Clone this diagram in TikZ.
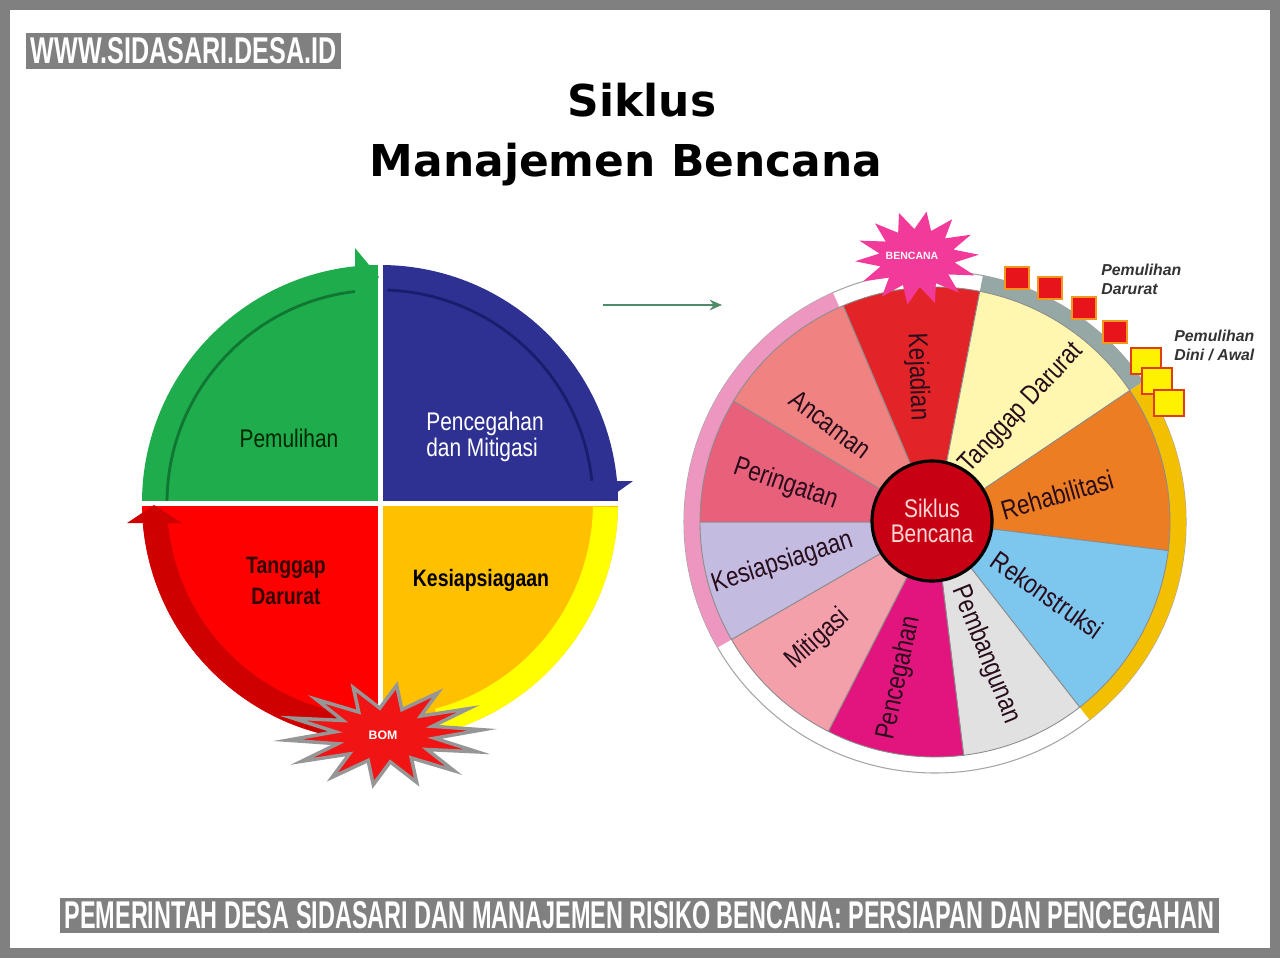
\documentclass[tikz,border=0pt]{standalone}
\usepackage{fontspec}
\setmainfont{Liberation Sans}
\newfontfamily\titlefont{DejaVu Sans}
\newfontfamily\narrowfont[FakeStretch=0.82]{Liberation Sans}
\usetikzlibrary{arrows.meta}

\definecolor{framegray}{RGB}{128,128,128}
\definecolor{greenq}{RGB}{30,172,76}
\definecolor{greenline}{RGB}{16,118,50}
\definecolor{blueq}{RGB}{46,49,146}
\definecolor{blueline}{RGB}{26,28,108}
\definecolor{redq}{RGB}{254,0,0}
\definecolor{redband}{RGB}{206,0,0}
\definecolor{orangeq}{RGB}{255,192,0}
\definecolor{yellowband}{RGB}{255,255,0}
\definecolor{bomred}{RGB}{240,20,20}
\definecolor{stargray}{RGB}{150,150,150}
\definecolor{flowgreen}{RGB}{80,140,105}
\definecolor{kejcol}{RGB}{226,36,40}
\definecolor{tangcol}{RGB}{255,247,176}
\definecolor{rehabcol}{RGB}{236,125,35}
\definecolor{rekoncol}{RGB}{125,198,238}
\definecolor{pembcol}{RGB}{225,225,225}
\definecolor{penccol}{RGB}{226,20,125}
\definecolor{mitigcol}{RGB}{244,160,170}
\definecolor{kesiapcol}{RGB}{196,188,224}
\definecolor{peringcol}{RGB}{232,96,122}
\definecolor{ancamcol}{RGB}{240,130,130}
\definecolor{ringpink}{RGB}{236,150,192}
\definecolor{ringgray}{RGB}{150,168,165}
\definecolor{ringgold}{RGB}{242,192,0}
\definecolor{ringline}{RGB}{165,165,165}
\definecolor{corered}{RGB}{200,0,20}
\definecolor{corepink}{RGB}{255,215,215}
\definecolor{bencanapink}{RGB}{242,58,154}
\definecolor{sqred}{RGB}{232,20,28}
\definecolor{sqorange}{RGB}{245,150,30}
\definecolor{sqyellow}{RGB}{255,242,0}
\definecolor{sqedge}{RGB}{225,60,20}
\definecolor{wheelink}{RGB}{40,12,28}

\begin{document}
\begin{tikzpicture}[x=0.02cm,y=0.02cm,
  banner/.style={fill=framegray,text=white,font=\bfseries,inner xsep=0.1cm,inner ysep=0.09cm},
  titletext/.style={font=\titlefont\bfseries\fontsize{25}{28}\selectfont,anchor=base},
  quadtext/.style={font=\narrowfont\fontsize{14.5}{13}\selectfont,inner sep=0},
  quadbold/.style={font=\narrowfont\bfseries\fontsize{13.5}{18}\selectfont,inner sep=0,align=center},
  wedge/.style={draw=black!45,line width=0.5pt},
  wheeltext/.style={font=\narrowfont\fontsize{15.5}{16}\selectfont,text=wheelink,inner sep=0},
  redsq/.style={draw=sqorange,fill=sqred,line width=1.2pt,minimum width=0.48cm,minimum height=0.44cm,inner sep=0},
  yellowsq/.style={draw=sqedge,fill=sqyellow,line width=1.4pt,minimum width=0.6cm,minimum height=0.52cm,inner sep=0},
  notetext/.style={font=\bfseries\itshape\fontsize{9}{10.8}\selectfont,text=black!80,align=left,anchor=west,inner sep=0},
  flowarrow/.style={draw=flowgreen,line width=1.6pt,-{Stealth[length=7pt,width=6pt]}}]

\useasboundingbox (0,0) rectangle (1280,958);
\fill[framegray] (0,0) rectangle (1280,958);
\fill[white] (10,10) rectangle (1270,948);

% banners and title
\node[banner] (site) at (183.5,907) {\resizebox{6.12cm}{0.52cm}{WWW.SIDASARI.DESA.ID}};
\node[banner,inner ysep=0.08cm] (headline) at (639.5,42.5) {\resizebox{23cm}{0.54cm}{PEMERINTAH DESA SIDASARI DAN MANAJEMEN RISIKO BENCANA: PERSIAPAN DAN PENCEGAHAN}};
\node[titletext] (siklus) at (642,841) {Siklus};
\node[titletext] (manajemen) at (626,781) {Manajemen Bencana};

% left cycle
\coordinate (L) at (380,455);
\fill[greenq] (L) -- ([shift={(L)}]180:238) arc[start angle=180,end angle=90,radius=238] -- cycle;
\fill[blueq] (L) -- ([shift={(L)}]90:238) arc[start angle=90,end angle=0,radius=238] -- cycle;
\fill[redq] (L) -- ([shift={(L)}]180:238) arc[start angle=180,end angle=270,radius=238] -- cycle;
\fill[orangeq] (L) -- ([shift={(L)}]270:238) arc[start angle=270,end angle=360,radius=238] -- cycle;

\draw[greenline,line width=1.6pt] ([shift={(L)}]180:213) arc[start angle=180,end angle=96,radius=213];
\draw[blueline,line width=1.6pt] ([shift={(L)}]88:213) arc[start angle=88,end angle=6,radius=213];
\fill[redband] ([shift={(L)}]185:238) arc[start angle=185,end angle=265,radius=238]
  -- ([shift={(L)}]265:213) arc[start angle=265,end angle=185,radius=213] -- cycle;
\fill[yellowband] ([shift={(L)}]359:238) arc[start angle=359,end angle=285,radius=238]
  -- ([shift={(L)}]285:213) arc[start angle=285,end angle=359,radius=213] -- cycle;

\draw[white,line width=0.1cm] (142,455) -- (619,455);
\draw[white,line width=0.1cm] (380,216) -- (380,694);

\fill[greenq] (355,710) -- (379,681) -- (355,652) -- cycle;
\fill[blueq] (633,477) -- (605,457) -- (578,477) -- cycle;
\fill[redband] (127,435) -- (154,453) -- (182,435) -- cycle;

\node[quadtext,anchor=base,text=black!85!green] (pemulihan) at (289,511) {Pemulihan};
\node[quadtext,anchor=west,align=left,text=white] (pencegahan) at (426,521) {Pencegahan\\dan Mitigasi};
\node[quadbold,text=black!80!red] (tanggap) at (286,377) {Tanggap\\Darurat};
\node[quadbold,text=black] (kesiap) at (481,378) {Kesiapsiagaan};

\fill[bomred,draw=stargray,line width=2pt] plot[samples=29,domain=0:28,variable=\k]
  ({385+(mod(\k,2)==0 ? 98 : 50)*cos(\k*360/28+6)},{223+(mod(\k,2)==0 ? 50 : 27)*sin(\k*360/28+6)}) -- cycle;
\node[font=\bfseries\fontsize{7}{8}\selectfont,text=white] (bom) at (383,223) {BOM};

% flow arrow
\coordinate (flowstart) at (603,653);
\coordinate (flowend) at (722,653);
\draw[flowarrow] (flowstart) -- (flowend);

% right wheel
\coordinate (W) at (935,436);
\draw[ringline,fill=white,line width=0.6pt] (W) circle[radius=251];
\fill[ringpink] ([shift={(W)}]114:251) arc[start angle=114,end angle=210,radius=251]
  -- ([shift={(W)}]210:235) arc[start angle=210,end angle=114,radius=235] -- cycle;
\fill[ringgray] ([shift={(W)}]34:251) arc[start angle=34,end angle=79,radius=251]
  -- ([shift={(W)}]79:235) arc[start angle=79,end angle=34,radius=235] -- cycle;
\fill[ringgold] ([shift={(W)}]-52:251) arc[start angle=-52,end angle=34,radius=251]
  -- ([shift={(W)}]34:235) arc[start angle=34,end angle=-52,radius=235] -- cycle;

\foreach \from/\to/\col in {79/113/kejcol,34/79/tangcol,-7/34/rehabcol,-52/-7/rekoncol,-83/-52/pembcol,
  -117/-83/penccol,-150/-117/mitigcol,-180/-150/kesiapcol,-211/-180/peringcol,-247/-211/ancamcol}
  \filldraw[wedge,fill=\col] (W) -- ([shift={(W)}]\from:235) arc[start angle=\from,end angle=\to,radius=235] -- cycle;

\foreach \ang/\rad/\rot/\name/\lab in {97/146/-88/kejadian/Kejadian,52.6/143/47/tanggapw/Tanggap Darurat,
  12.5/125/16/rehab/Rehabilitasi,-33/134/-35/rekon/Rekonstruksi,-69/142/-68/pemb/Pembangunan,
  257/160/78/pencw/Pencegahan,225/166/42/mitig/Mitigasi,195/158/18/kesiapw/Kesiapsiagaan,
  166/154/-19/pering/Peringatan,137/143/-37/ancam/Ancaman}
  \node[wheeltext,rotate=\rot] (\name) at ([shift={(W)}]\ang:\rad) {\lab};

\node[circle,fill=corered,draw=black,line width=1.8pt,minimum size=2.4cm,inner sep=0,
  text=corepink,align=center,font=\narrowfont\fontsize{14.5}{14}\selectfont] (core) at (932,437) {Siklus\\Bencana};

\fill[bencanapink] plot[samples=29,domain=0:28,variable=\k]
  ({917+(mod(\k,2)==0 ? 62 : 38)*cos(\k*360/28+4)},{700+(mod(\k,2)==0 ? 47 : 29)*sin(\k*360/28+4)}) -- cycle;
\node[font=\bfseries\fontsize{6}{7}\selectfont,text=white!90!pink] (bencana) at (912,702) {BENCANA};

\node[redsq] (rsq1) at (1017,680) {};
\node[redsq] (rsq2) at (1050,670) {};
\node[redsq] (rsq3) at (1084,650) {};
\node[redsq] (rsq4) at (1115,626) {};
\node[yellowsq] (ysq1) at (1146,597) {};
\node[yellowsq] (ysq2) at (1157,577) {};
\node[yellowsq] (ysq3) at (1169,555) {};

\node[notetext] (pdarurat) at (1101,679) {Pemulihan\\Darurat};
\node[notetext] (pdini) at (1174,613) {Pemulihan\\Dini / Awal};
\end{tikzpicture}
\end{document}
